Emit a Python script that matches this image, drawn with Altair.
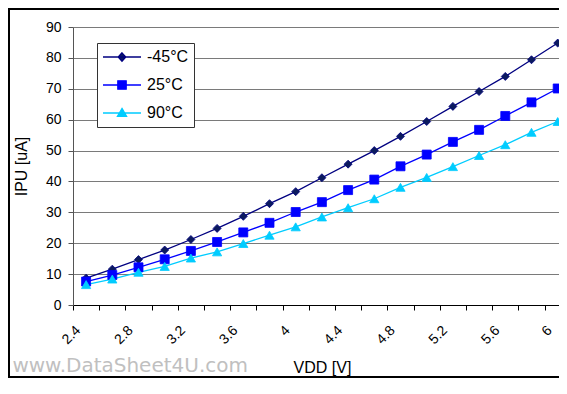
import altair as alt
import pandas as pd

# ---- data ----
series = ["-45°C", "25°C", "90°C"]
vdd = [2.5, 2.7, 2.9, 3.1, 3.3, 3.5, 3.7, 3.9, 4.1, 4.3,
       4.5, 4.7, 4.9, 5.1, 5.3, 5.5, 5.7, 5.9, 6.1]
ipu_m45 = [8.7, 11.6, 14.7, 17.8, 21.2, 24.8, 28.7, 32.8, 36.7, 41.2,
           45.6, 50.0, 54.6, 59.4, 64.3, 69.1, 74.0, 79.4, 84.8]
ipu_25 = [7.6, 9.7, 12.2, 14.8, 17.5, 20.4, 23.5, 26.6, 30.1, 33.3,
          37.2, 40.6, 44.9, 48.7, 52.8, 56.7, 61.2, 65.6, 70.1]
ipu_90 = [6.6, 8.4, 10.6, 12.5, 15.2, 17.2, 19.9, 22.6, 25.3, 28.5,
          31.5, 34.4, 38.1, 41.3, 44.8, 48.4, 51.9, 55.9, 59.4]
x_ticks = [2.4, 2.6, 2.8, 3.0, 3.2, 3.4, 3.6, 3.8, 4.0, 4.2,
           4.4, 4.6, 4.8, 5.0, 5.2, 5.4, 5.6, 5.8, 6.0]
y_ticks = [0, 10, 20, 30, 40, 50, 60, 70, 80, 90]
WATERMARK = "www.DataSheet4U.com"

# ---- styles ----
line_colors = ["#000080", "#0000FF", "#00CCFF"]
marker_fills = ["#0B1A5E", "#0000FF", "#00CCFF"]
marker_shapes = ["diamond", "square", "triangle-up"]
marker_sizes = [64, 81, 85]
legend_paths = [
    "M-1,0L1,0M0,-0.22L0.2,0L0,0.22L-0.2,0Z",
    "M-1,0L1,0M-0.22,-0.22L0.22,-0.22L0.22,0.22L-0.22,0.22Z",
    "M-1,0L1,0M0,-0.24L0.24,0.17L-0.24,0.17Z",
]
FONT = "Liberation Sans"

rows = []
for name, vals in zip(series, [ipu_m45, ipu_25, ipu_90]):
    for v, i in zip(vdd, vals):
        rows.append({"series": name, "vdd": v, "ipu": i})
df = pd.DataFrame(rows)

x_enc = alt.X("vdd:Q",
              scale=alt.Scale(domain=[2.4, 6.11], nice=False, zero=False),
              axis=alt.Axis(values=x_ticks, format="~g",
                            labelExpr="round(datum.value*10) % 4 == 0 ? datum.label : ''",
                            labelAngle=-45, labelFont=FONT, labelFontSize=14,
                            labelColor="black", labelPadding=13,
                            labelOverlap=False, labelFlush=False,
                            tickSize=5, tickColor="black", domainColor="black",
                            grid=False, title="VDD [V]", titleFont=FONT,
                            titleFontSize=16, titleFontWeight="normal",
                            titleColor="black", titlePadding=13, titleX=249))
y_enc = alt.Y("ipu:Q",
              scale=alt.Scale(domain=[0, 90], nice=False),
              axis=alt.Axis(values=y_ticks, labelFont=FONT, labelFontSize=14,
                            labelColor="black", labelPadding=7,
                            tickSize=5, tickColor="#555555", domainColor="#555555",
                            grid=True, gridColor="#7A7A7A", gridWidth=1,
                            title="IPU [uA]", titleFont=FONT, titleFontSize=16,
                            titleFontWeight="normal", titleColor="black",
                            titlePadding=16))

base = alt.Chart(df)

# legend-only layer (no marks drawn, scales give the legend)
legend_cfg = alt.Legend(title=None, orient="none", legendX=24, legendY=16,
                        symbolSize=1444, clipHeight=18, rowPadding=10,
                        padding=5, labelOffset=5, labelFont=FONT,
                        labelFontSize=16, labelColor="black",
                        strokeColor="#333333", fillColor="white",
                        symbolStrokeWidth=1.3, symbolOpacity=1)
legend_layer = base.transform_filter("false").mark_point(
    filled=True, size=1444, strokeWidth=1.3, opacity=1
).encode(
    color=alt.Color("series:N", scale=alt.Scale(domain=series, range=marker_fills),
                    legend=legend_cfg),
    stroke=alt.Stroke("series:N", scale=alt.Scale(domain=series, range=line_colors),
                      legend=legend_cfg),
    shape=alt.Shape("series:N", scale=alt.Scale(domain=series, range=legend_paths),
                    legend=legend_cfg),
)

layers = [legend_layer]
for name, lc in zip(series, line_colors):
    layers.append(
        base.transform_filter(alt.datum.series == name)
        .mark_line(color=lc, strokeWidth=1.3, clip=True)
        .encode(x=x_enc, y=y_enc)
    )
for name, fc, lc, shp, sz in zip(series, marker_fills, line_colors, marker_shapes, marker_sizes):
    layers.append(
        base.transform_filter(alt.datum.series == name)
        .mark_point(shape=shp, size=sz, filled=True, fill=fc, stroke=lc,
                    strokeWidth=0.8, opacity=1)
        .encode(x=x_enc, y=y_enc)
    )

frame_df = pd.DataFrame({"k": [0]})
watermark = alt.Chart(frame_df).mark_text(
    text=WATERMARK, align="right", baseline="alphabetic", font="DejaVu Sans",
    fontSize=20, color="#C0C0C0"
).encode(x=alt.value(175), y=alt.value(345))
# chart border (thin filled bars along the top, left and bottom edges)
frame_top = alt.Chart(frame_df).mark_rect(color="black").encode(
    x=alt.value(-65), x2=alt.value(486), y=alt.value(-19), y2=alt.value(-17))
frame_left = alt.Chart(frame_df).mark_rect(color="black").encode(
    x=alt.value(-65), x2=alt.value(-63), y=alt.value(-19), y2=alt.value(351))
frame_bottom = alt.Chart(frame_df).mark_rect(color="black").encode(
    x=alt.value(-65), x2=alt.value(486), y=alt.value(349), y2=alt.value(351))

chart = alt.layer(*layers, watermark, frame_top, frame_left, frame_bottom).properties(
    width=486, height=278,
    padding={"left": 65, "top": 19, "right": 0, "bottom": 73},
    autosize=alt.AutoSizeParams(type="none"),
    background="white",
).configure_view(strokeWidth=0)

chart.save("out.html", embed_options={"renderer": "svg", "actions": False})
